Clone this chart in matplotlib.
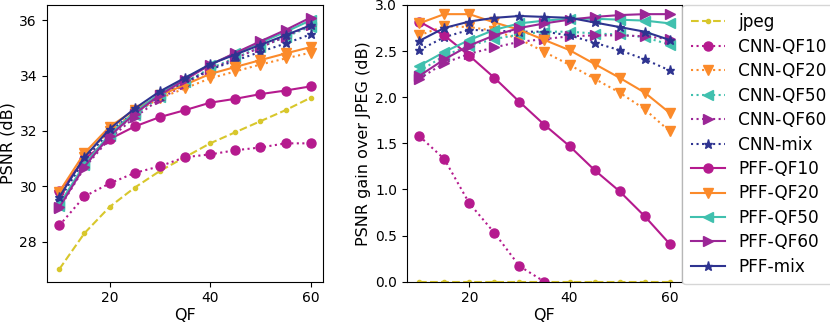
import numpy as np
import matplotlib
matplotlib.use('Agg')
import matplotlib.pyplot as plt

qf = [10, 15, 20, 25, 30, 35, 40, 45, 50, 55, 60]
jpeg_psnr = [27.0, 28.3, 29.25, 29.95, 30.55, 31.05, 31.55, 31.95, 32.35, 32.75, 33.2]

# gain over jpeg (dB)
cnn_qf10 = [1.58, 1.33, 0.85, 0.53, 0.17, 0.0, -0.40, -0.65, -0.95, -1.20, -1.65]
cnn_qf20 = [2.67, 2.77, 2.76, 2.72, 2.63, 2.49, 2.35, 2.20, 2.05, 1.87, 1.63]
cnn_qf50 = [2.28, 2.45, 2.56, 2.63, 2.68, 2.71, 2.71, 2.69, 2.68, 2.65, 2.57]
cnn_qf60 = [2.20, 2.37, 2.47, 2.54, 2.60, 2.63, 2.66, 2.67, 2.67, 2.66, 2.63]
cnn_mix = [2.51, 2.65, 2.73, 2.72, 2.71, 2.71, 2.67, 2.59, 2.51, 2.41, 2.29]
pff_qf10 = [2.82, 2.67, 2.45, 2.21, 1.95, 1.70, 1.47, 1.21, 0.98, 0.71, 0.41]
pff_qf20 = [2.80, 2.90, 2.90, 2.81, 2.73, 2.62, 2.51, 2.36, 2.21, 2.05, 1.83]
pff_qf50 = [2.34, 2.49, 2.62, 2.73, 2.80, 2.83, 2.85, 2.85, 2.84, 2.83, 2.80]
pff_qf60 = [2.23, 2.41, 2.56, 2.67, 2.75, 2.80, 2.84, 2.87, 2.89, 2.90, 2.90]
pff_mix = [2.61, 2.75, 2.82, 2.86, 2.88, 2.87, 2.86, 2.81, 2.76, 2.71, 2.62]

c_jpeg = '#d8c72c'
c_10 = '#b51a8e'
c_20 = '#fb8a2a'
c_50 = '#40c0ae'
c_60 = '#9b2696'
c_mix = '#2e3390'

series = [
    ('CNN-QF10', cnn_qf10, c_10, 'o', ':'),
    ('CNN-QF20', cnn_qf20, c_20, 'v', ':'),
    ('CNN-QF50', cnn_qf50, c_50, '<', ':'),
    ('CNN-QF60', cnn_qf60, c_60, '>', ':'),
    ('CNN-mix', cnn_mix, c_mix, '*', ':'),
    ('PFF-QF10', pff_qf10, c_10, 'o', '-'),
    ('PFF-QF20', pff_qf20, c_20, 'v', '-'),
    ('PFF-QF50', pff_qf50, c_50, '<', '-'),
    ('PFF-QF60', pff_qf60, c_60, '>', '-'),
    ('PFF-mix', pff_mix, c_mix, '*', '-'),
]

fig = plt.figure(figsize=(8.3, 3.28), dpi=100)
ax1 = fig.add_axes([0.0563, 0.141, 0.3332, 0.844])
ax2 = fig.add_axes([0.49, 0.141, 0.332, 0.844])

jp = np.array(jpeg_psnr)
ax1.plot(qf, jp, '--', color=c_jpeg, marker='.', label='jpeg')
ax2.plot(qf, jp - jp, '--', color=c_jpeg, marker='.', label='jpeg')
for name, gain, col, mk, ls in series:
    g = np.array(gain)
    ax1.plot(qf, jp + g, ls, color=col, marker=mk, markersize=6.5, label=name)
    ax2.plot(qf, g, ls, color=col, marker=mk, markersize=6.5, label=name)

ax1.set_ylabel('PSNR (dB)', fontsize=11.5, labelpad=3)
ax1.set_xlabel('QF', fontsize=11.5, labelpad=2)
ax1.set_xticks([20, 40, 60])
ax1.set_yticks([28, 30, 32, 34, 36])
ax1.tick_params(labelsize=10)

ax2.set_ylim(0, 3.0)
ax2.set_ylabel('PSNR gain over JPEG (dB)', fontsize=11.5, labelpad=3)
ax2.set_xlabel('QF', fontsize=11.5, labelpad=2)
ax2.set_xticks([20, 40, 60])
ax2.set_yticks([0, 0.5, 1.0, 1.5, 2.0, 2.5, 3.0])
ax2.tick_params(labelsize=10)
ax2.legend(loc='upper left', bbox_to_anchor=(1.0, 1.0), borderaxespad=0,
           fontsize=12.2, labelspacing=0.38, borderpad=0.5)

fig.savefig('out.png', dpi=100)
